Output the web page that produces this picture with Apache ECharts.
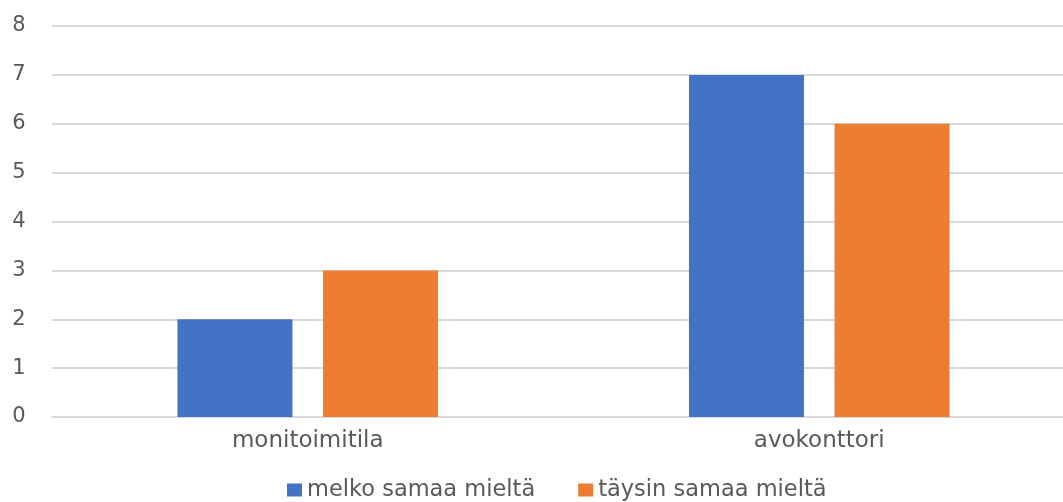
<!DOCTYPE html>
<html><head><meta charset="utf-8">
<script src="https://cdn.jsdelivr.net/npm/echarts@6/dist/echarts.min.js"></script>
<style>html,body{margin:0;padding:0;background:#fff}#c{width:1063px;height:502px}</style>
</head><body><div id="c"></div>
<script>
const categories = ['monitoimitila', 'avokonttori'];
const seriesNames = ['melko samaa mieltä', 'täysin samaa mieltä'];
const melko = [2, 7];
const taysin = [3, 6];
const yTicks = [0, 1, 2, 3, 4, 5, 6, 7, 8];

const chart = echarts.init(document.getElementById('c'));
const font = 'DejaVu Sans';
chart.setOption({
  animation: false,
  grid: { left: 52, width: 1023, top: 26, height: 391, containLabel: false, outerBoundsMode: 'none' },
  legend: {
    top: 478, left: 287, padding: 0, itemWidth: 15, itemHeight: 13, itemGap: 43,
    icon: 'rect',
    textStyle: { color: '#595959', fontSize: 22.5, lineHeight: 24, fontFamily: font }
  },
  xAxis: {
    type: 'category', data: categories,
    axisLine: { lineStyle: { color: '#d9d9d9', width: 2 } },
    axisTick: { show: false },
    axisLabel: { color: '#595959', fontSize: 23, fontFamily: font, margin: 13 }
  },
  yAxis: {
    type: 'value', min: 0, max: 8, interval: 1,
    axisLine: { show: false }, axisTick: { show: false },
    splitLine: { lineStyle: { color: '#d9d9d9', width: 2 } },
    axisLabel: { color: '#595959', fontSize: 21, fontFamily: font, margin: 33, align: 'center',
      formatter: v => yTicks.includes(v) ? String(v) : '' }
  },
  series: [
    { name: seriesNames[0], type: 'bar', data: melko, barWidth: 115, barGap: '26.6%',
      itemStyle: { color: '#4472C4' } },
    { name: seriesNames[1], type: 'bar', data: taysin, barWidth: 115,
      itemStyle: { color: '#ED7D31' } }
  ]
});
</script></body></html>
